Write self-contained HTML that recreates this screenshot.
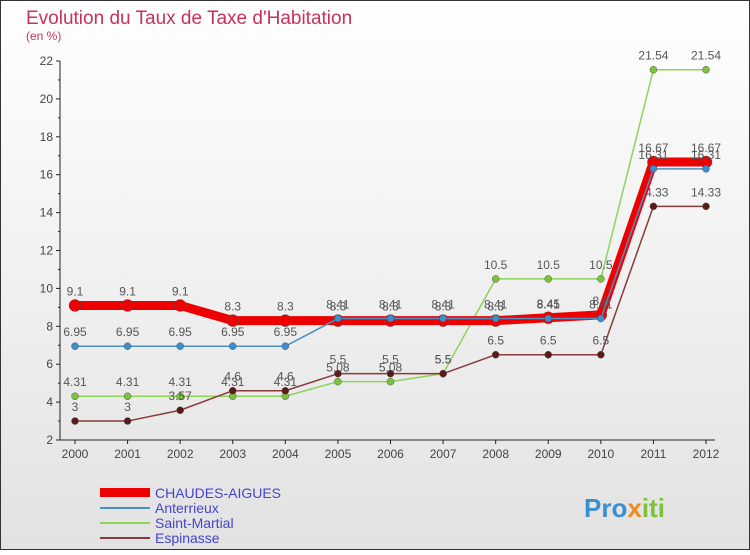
<!DOCTYPE html>
<html><head><meta charset="utf-8"><style>
body{margin:0;width:750px;height:550px;overflow:hidden;font-family:"Liberation Sans",sans-serif;}
</style></head><body>
<svg width="750" height="550" xmlns="http://www.w3.org/2000/svg">
<defs><linearGradient id="bg" x1="0" y1="0" x2="0" y2="1"><stop offset="0" stop-color="#ffffff"/><stop offset="1" stop-color="#e2e2e2"/></linearGradient></defs>
<rect x="0.5" y="0.5" width="749" height="549" fill="url(#bg)" stroke="#333"/>
<text x="26" y="24" font-size="19" fill="#c8315a">Evolution du Taux de Taxe d'Habitation</text>
<text x="26" y="40" font-size="12" fill="#c8315a">(en %)</text>
<g id="axes"></g><g id="series"></g>
<g>
<rect x="100" y="488" width="50" height="9" fill="#ee0000"/>
<text x="155" y="498" font-size="14" fill="#4444cc">CHAUDES-AIGUES</text>
<line x1="100" y1="508" x2="150" y2="508" stroke="#4a90c8" stroke-width="2"/>
<text x="155" y="513" font-size="14" fill="#4444cc">Anterrieux</text>
<line x1="100" y1="523" x2="150" y2="523" stroke="#8ed45a" stroke-width="2"/>
<text x="155" y="528" font-size="14" fill="#4444cc">Saint-Martial</text>
<line x1="100" y1="538" x2="150" y2="538" stroke="#8a3a3a" stroke-width="2"/>
<text x="155" y="543" font-size="14" fill="#4444cc">Espinasse</text>
</g>
<text x="584" y="517" font-size="26" font-weight="bold" fill="#3a8fd0">Pro<tspan fill="#f08a1c">x</tspan><tspan fill="#7cc23a">iti</tspan></text>
</svg>
<script>
const years=[2000,2001,2002,2003,2004,2005,2006,2007,2008,2009,2010,2011,2012];
const yTicks=[2,4,6,8,10,12,14,16,18,20,22];
const chaudes=[9.1,9.1,9.1,8.3,8.3,8.3,8.3,8.3,8.3,8.45,8.6,16.67,16.67];
const anterrieux=[6.95,6.95,6.95,6.95,6.95,8.41,8.41,8.41,8.41,8.41,8.41,16.31,16.31];
const saintMartial=[4.31,4.31,4.31,4.31,4.31,5.08,5.08,5.5,10.5,10.5,10.5,21.54,21.54];
const espinasse=[3,3,3.57,4.6,4.6,5.5,5.5,5.5,6.5,6.5,6.5,14.33,14.33];
const NS="http://www.w3.org/2000/svg";
const xs=i=>75+i*(706-75)/12;
const ys=v=>440-(v-2)*(440-61)/20;
function mk(t,a,p){const e=document.createElementNS(NS,t);for(const k in a)e.setAttribute(k,a[k]);p.appendChild(e);return e;}
const ax=document.getElementById('axes');
const xl=mk('line',{x1:60,y1:440,x2:715,y2:440,stroke:'#222'},ax);


const yl=mk('line',{x1:60,y1:61,x2:60,y2:440,stroke:'#222'},ax);


yTicks.forEach(v=>{const y=ys(v);mk('line',{x1:56,y1:y,x2:60,y2:y,stroke:'#222'},ax);
 if(v<22)mk('line',{x1:58,y1:ys(v+1),x2:60,y2:ys(v+1),stroke:'#222'},ax);
 const t=mk('text',{x:53,y:y+4,'font-size':12,fill:'#444','text-anchor':'end'},ax);t.textContent=v;
 
 });
years.forEach((yr,i)=>{const x=xs(i);mk('line',{x1:x,y1:440,x2:x,y2:444,stroke:'#222'},ax);
 const t=mk('text',{x:x,y:458,'font-size':12,fill:'#444','text-anchor':'middle'},ax);t.textContent=yr;
 
 });
const sg=document.getElementById('series');
function draw(vals,color,w,dot,dotc,name){
 const g=mk('g',{},sg);
 
 
 const p=mk('polyline',{points:vals.map((v,i)=>xs(i)+','+ys(v)).join(' '),fill:'none',stroke:color,'stroke-width':w,'stroke-linejoin':'round'},g);
 
 
 vals.forEach((v,i)=>{const c=mk('circle',{cx:xs(i),cy:ys(v),r:dot,fill:dotc,stroke:'#555','stroke-width':0.5},g);
  
  
  const t=mk('text',{x:xs(i),y:ys(v)-10,'font-size':12,fill:'#555','text-anchor':'middle'},g);t.textContent=v;
  
  });
}
draw(saintMartial,'#8ed45a',1.5,3.5,'#7cc23a','saint-martial');
draw(espinasse,'#8a3a3a',1.5,3.5,'#5a1a1a','espinasse');
draw(chaudes,'#ee0000',9,6,'#ee0000','chaudes-aigues');
draw(anterrieux,'#4a90c8',1.5,3.5,'#3a8fd0','anterrieux');
</script>
</body></html>
